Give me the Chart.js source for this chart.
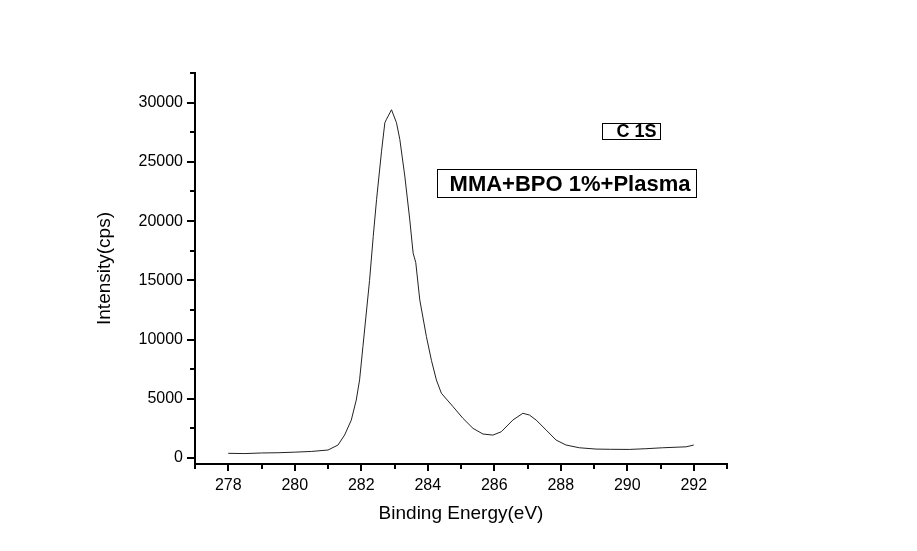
<!DOCTYPE html>
<html>
<head>
<meta charset="utf-8">
<title>C 1S</title>
<script src="https://cdn.jsdelivr.net/npm/chart.js@4/dist/chart.umd.min.js"></script>
<style>
    body { margin: 0; background: #fff; }
    #chart { display: block; }
</style>
</head>
<body>
<canvas id="chart" width="917" height="551"></canvas>
<script>
const energy = [278, 278.5, 279, 279.5, 280, 280.5, 281, 281.3, 281.5, 281.7, 281.85, 281.95,
    282.05, 282.25, 282.36, 282.46, 282.61, 282.71, 282.76, 282.91, 283.06, 283.16, 283.31,
    283.46, 283.56, 283.64, 283.76, 283.96, 284.11, 284.26, 284.41, 284.76, 285.06, 285.36,
    285.66, 285.96, 286.21, 286.56, 286.86, 287.06, 287.26, 287.56, 287.86, 288.16,
    288.56, 289.06, 289.5, 290.06, 290.56, 291.06, 291.5, 291.77, 292];
const intensity = [400, 380, 430, 450, 500, 560, 680, 1100, 1950, 3200, 4900, 6600,
    9400, 15000, 18700, 21800, 25900, 28300, 28600, 29400, 28300, 26900, 23800,
    20100, 17300, 16500, 13350, 10250, 8250, 6590, 5470, 4340, 3350, 2510,
    2030, 1940, 2220, 3210, 3780, 3630, 3210, 2370, 1520, 1100,
    870, 760, 740, 730, 790, 870, 920, 950, 1100];

// Axis ticks (minor ones carry no label)
const xTicks = [277, 278, 279, 280, 281, 282, 283, 284, 285, 286, 287, 288, 289, 290, 291, 292, 293];
const xLabels = [278, 280, 282, 284, 286, 288, 290, 292];
const yTicks = [0, 2500, 5000, 7500, 10000, 12500, 15000, 17500, 20000, 22500, 25000, 27500, 30000, 32500];
const yLabels = [0, 5000, 10000, 15000, 20000, 25000, 30000];

const FONT = "'Liberation Sans', Arial, sans-serif";

// Little boxed captions, anchored in data coordinates
const notes = [
    { text: 'C 1S', x: 289.25, y: 28310, size: 18, width: 58, height: 16, dx: 5 },
    { text: 'MMA+BPO 1%+Plasma', x: 284.27, y: 24420, size: 22, width: 259, height: 28, dx: 3 }
];

// Tick marks outside the axes, long for labelled, short for the rest
const tickMarks = {
    id: 'tickMarks',
    afterDraw(chart) {
        const ctx = chart.ctx;
        const xs = chart.scales.x;
        const ys = chart.scales.y;
        ctx.save();
        ctx.strokeStyle = '#000';
        ctx.lineWidth = 2;
        xTicks.forEach(v => {
            const px = Math.round(xs.getPixelForValue(v));
            const len = xLabels.includes(v) ? 7 : 5;
            ctx.beginPath();
            ctx.moveTo(px, xs.top);
            ctx.lineTo(px, xs.top + len);
            ctx.stroke();
        });
        yTicks.forEach(v => {
            const py = Math.round(ys.getPixelForValue(v));
            const len = yLabels.includes(v) ? 8 : 5;
            ctx.beginPath();
            ctx.moveTo(ys.right, py);
            ctx.lineTo(ys.right - len, py);
            ctx.stroke();
        });
        ctx.restore();
    }
};

const captions = {
    id: 'captions',
    afterDraw(chart) {
        const ctx = chart.ctx;
        const xs = chart.scales.x;
        const ys = chart.scales.y;
        ctx.save();
        notes.forEach(n => {
            const left = Math.round(xs.getPixelForValue(n.x)) + 0.5;
            const top = Math.round(ys.getPixelForValue(n.y)) + 0.5;
            ctx.strokeStyle = '#000';
            ctx.lineWidth = 1;
            ctx.strokeRect(left, top, n.width, n.height);
            ctx.fillStyle = '#000';
            ctx.font = 'bold ' + n.size + 'px ' + FONT;
            ctx.textAlign = 'center';
            ctx.textBaseline = 'middle';
            ctx.fillText(n.text, left + n.width / 2 + n.dx, top + n.height / 2 + 1);
        });
        ctx.restore();
    }
};

const points = energy.map((e, i) => ({ x: e, y: intensity[i] }));

new Chart(document.getElementById('chart'), {
    type: 'line',
    data: {
        datasets: [{
            data: points,
            borderColor: '#222',
            borderWidth: 1,
            pointRadius: 0,
            tension: 0,
            fill: false
        }]
    },
    options: {
        responsive: false,
        animation: false,
        layout: { padding: { top: 73, right: 190, left: 0, bottom: 0 } },
        plugins: {
            legend: { display: false },
            tooltip: { enabled: false }
        },
        scales: {
            x: {
                type: 'linear',
                min: 277,
                max: 293,
                afterFit(scale) { scale.height = 87; },
                afterBuildTicks(scale) { scale.ticks = xTicks.map(v => ({ value: v })); },
                grid: { drawOnChartArea: false, drawTicks: false },
                border: { display: true, color: '#000', width: 2 },
                ticks: {
                    autoSkip: false,
                    maxRotation: 0,
                    padding: 12,
                    color: '#000',
                    font: { family: FONT, size: 16 },
                    callback: v => xLabels.includes(v) ? String(v) : ''
                },
                title: {
                    display: true,
                    text: 'Binding Energy(eV)',
                    color: '#000',
                    font: { family: FONT, size: 19 },
                    padding: { top: 0, bottom: 26 }
                }
            },
            y: {
                type: 'linear',
                min: -500,
                max: 32500,
                afterFit(scale) { scale.width = 195; },
                afterBuildTicks(scale) { scale.ticks = yTicks.map(v => ({ value: v })); },
                grid: { drawOnChartArea: false, drawTicks: false },
                border: { display: true, color: '#000', width: 2 },
                ticks: {
                    autoSkip: false,
                    padding: 12,
                    color: '#000',
                    font: { family: FONT, size: 16 },
                    callback: v => yLabels.includes(v) ? String(v) : ''
                },
                title: {
                    display: true,
                    text: 'Intensity(cps)',
                    color: '#000',
                    font: { family: FONT, size: 19 },
                    padding: { top: 93, bottom: 0 }
                }
            }
        }
    },
    plugins: [tickMarks, captions]
});
</script>
</body>
</html>
